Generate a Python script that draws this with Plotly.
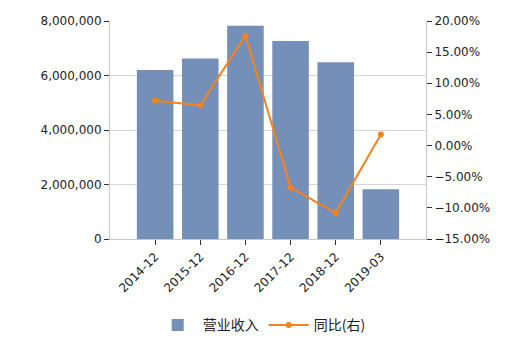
import plotly.graph_objects as go

categories = ["2014-12", "2015-12", "2016-12", "2017-12", "2018-12", "2019-03"]
revenue = [6200000, 6620000, 7830000, 7270000, 6490000, 1830000]
yoy = [7.2, 6.47, 17.65, -6.74, -10.8, 1.78]

FONT = "DejaVu Sans, Noto Sans CJK SC, sans-serif"

fig = go.Figure()
fig.add_trace(go.Bar(
    x=list(range(len(categories))), y=revenue, name="营业收入",
    marker=dict(color="#7490B8", line=dict(width=0)),
    yaxis="y",
))
fig.add_trace(go.Scatter(
    x=list(range(len(categories))), y=yoy, name="同比(右)",
    mode="lines+markers",
    line=dict(color="#F7821B", width=2),
    marker=dict(color="#F7821B", size=6),
    yaxis="y2",
))

fig.update_layout(
    width=525, height=352,
    margin=dict(l=110, r=99, t=21, b=112),
    paper_bgcolor="white", plot_bgcolor="white",
    bargap=0.19,
    font=dict(family=FONT, size=12, color="#222"),
    showlegend=True,
    legend=dict(orientation="h", x=0.48, xanchor="center", y=-0.39, yanchor="middle",
                itemwidth=40,
                font=dict(size=14, family="Noto Sans CJK SC, sans-serif", color="#222")),
    xaxis=dict(
        range=[-1, 6], tickmode="array", tickvals=list(range(len(categories))),
        ticktext=categories, tickangle=-45, showgrid=False,
        showline=True, linecolor="#C8C8C8", linewidth=1,
        ticks="outside", ticklen=5, tickcolor="#333", zeroline=False,
        tickfont=dict(size=12),
    ),
    yaxis=dict(
        range=[0, 8000000], dtick=2000000, tickformat=",",
        showgrid=True, gridcolor="#D6D6D6", gridwidth=1,
        showline=True, linecolor="#C8C8C8", linewidth=1,
        ticks="outside", ticklen=5, tickcolor="#333", zeroline=False,
        tickfont=dict(size=12),
    ),
    yaxis2=dict(
        range=[-15, 20], dtick=5, tickformat=".2f", ticksuffix="%",
        overlaying="y", side="right", showgrid=False,
        showline=True, linecolor="#C8C8C8", linewidth=1,
        ticks="outside", ticklen=5, tickcolor="#333", zeroline=False,
        tickfont=dict(size=12),
    ),
)

fig.write_html("out.html")
